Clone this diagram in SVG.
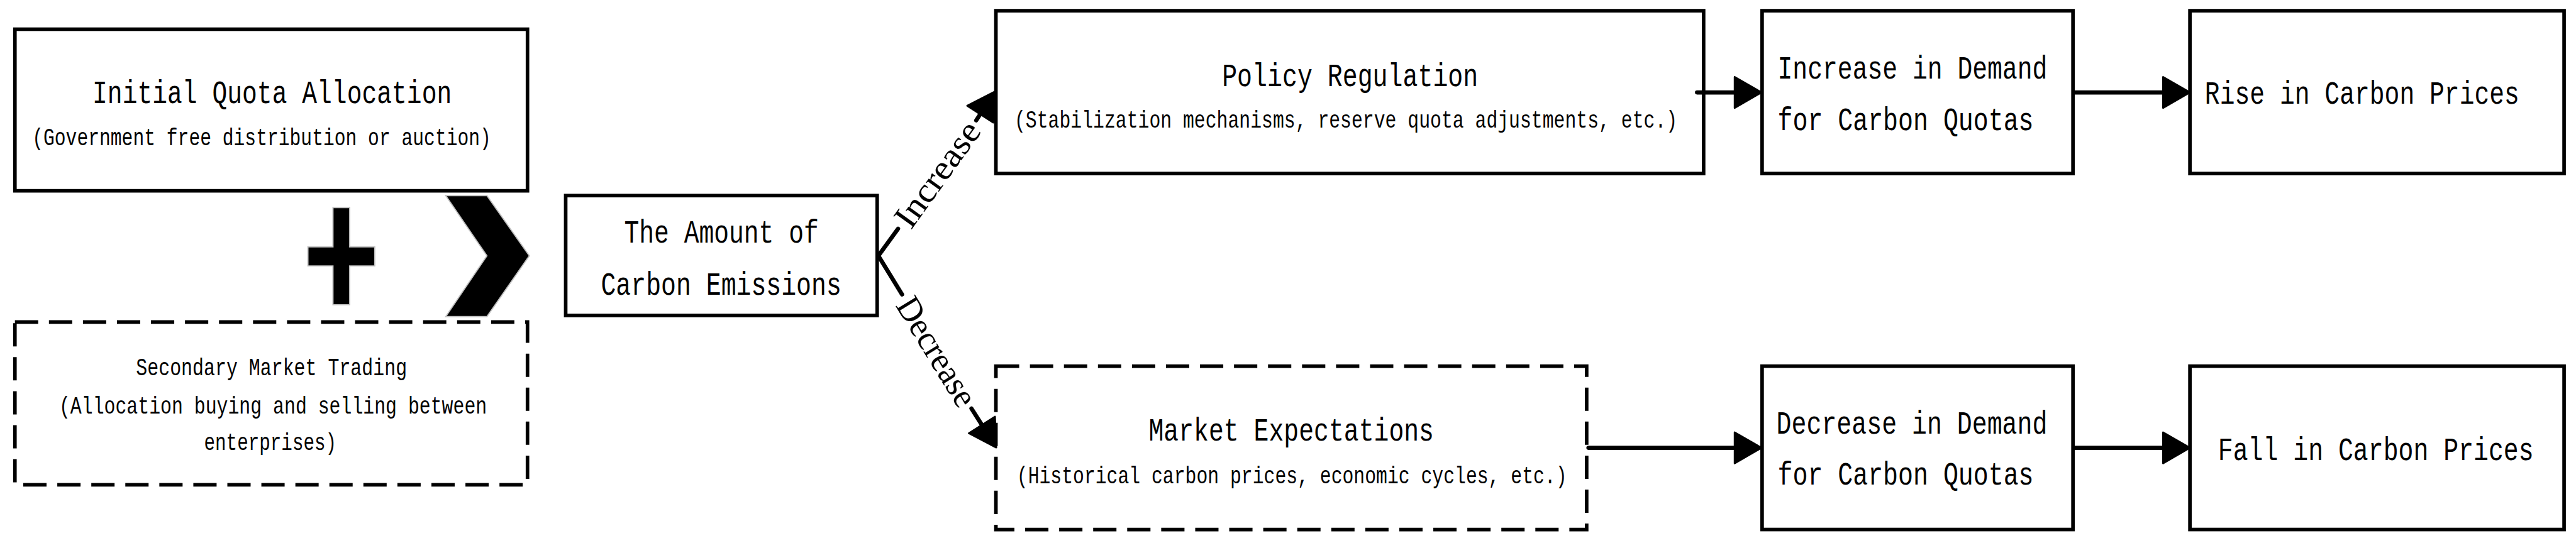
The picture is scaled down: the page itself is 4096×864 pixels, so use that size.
<svg xmlns="http://www.w3.org/2000/svg" width="4096" height="864" viewBox="0 0 4096 864">
<style>
.box{fill:#fff;stroke:#000;stroke-width:6}
.dash{stroke-dasharray:39 18}
.t{font-family:"Liberation Mono","DejaVu Sans Mono",monospace;font-size:44px;fill:#000}
.s{font-size:31px}
.lbl{font-family:"Liberation Serif","DejaVu Serif",serif;font-size:58px;fill:#000}
.con{fill:none;stroke:#000;stroke-width:7;stroke-linecap:round}
.sym{fill:#000;stroke:#c0c0c0;stroke-width:2}
</style>
<defs>
<marker id="ah" markerUnits="userSpaceOnUse" markerWidth="60" markerHeight="70" refX="0" refY="30" orient="auto" viewBox="-5 0 60 60" overflow="visible">
<path d="M0,4 L45,30 L0,56 z" fill="#000" stroke="#000" stroke-width="3" stroke-linejoin="round"/>
</marker>
</defs>
<rect width="4096" height="864" fill="#fff"/>
<g transform="scale(0.948813)">
<g id="initial-quota">
<rect class="box" x="25" y="49" width="859" height="271"/>
<text class="t" transform="translate(155,173) scale(1,1.25)" textLength="602" lengthAdjust="spacingAndGlyphs">Initial Quota Allocation</text>
<text class="t s" transform="translate(54,243) scale(1,1.3)" textLength="769" lengthAdjust="spacingAndGlyphs">(Government free distribution or auction)</text>
</g>
<g id="plus">
<polygon class="sym" points="558,348 586,348 586,414 628,414 628,446 586,446 586,511 558,511 558,446 516,446 516,414 558,414"/>
</g>
<g id="chevron">
<polygon class="sym" points="747,328 816,328 887,429 816,531 747,531 816,429"/>
</g>
<g id="secondary-market">
<rect class="box dash" x="25" y="540" width="859" height="273"/>
<text class="t s" transform="translate(228,629) scale(1,1.3)" textLength="454" lengthAdjust="spacingAndGlyphs">Secondary Market Trading</text>
<text class="t s" transform="translate(99,693) scale(1,1.3)" textLength="717" lengthAdjust="spacingAndGlyphs">(Allocation buying and selling between</text>
<text class="t s" transform="translate(342,755) scale(1,1.3)" textLength="222" lengthAdjust="spacingAndGlyphs">enterprises)</text>
</g>
<g id="carbon-emissions">
<rect class="box" x="948" y="328" width="522" height="201"/>
<text class="t" transform="translate(1046,407) scale(1,1.25)" textLength="326" lengthAdjust="spacingAndGlyphs">The Amount of</text>
<text class="t" transform="translate(1007,494) scale(1,1.25)" textLength="403" lengthAdjust="spacingAndGlyphs">Carbon Emissions</text>
</g>
<g id="policy-regulation">
<rect class="box" x="1669" y="18" width="1186" height="273"/>
<text class="t" transform="translate(2048,144) scale(1,1.25)" textLength="429" lengthAdjust="spacingAndGlyphs">Policy Regulation</text>
<text class="t s" transform="translate(1700,214) scale(1,1.3)" textLength="1111" lengthAdjust="spacingAndGlyphs">(Stabilization mechanisms, reserve quota adjustments, etc.)</text>
</g>
<g id="market-expectations">
<rect class="box dash" x="1669" y="614" width="990" height="274"/>
<text class="t" transform="translate(1925,739) scale(1,1.25)" textLength="478" lengthAdjust="spacingAndGlyphs">Market Expectations</text>
<text class="t s" transform="translate(1704,811) scale(1,1.3)" textLength="922" lengthAdjust="spacingAndGlyphs">(Historical carbon prices, economic cycles, etc.)</text>
</g>
<g id="increase-demand">
<rect class="box" x="2953" y="18" width="521" height="273"/>
<text class="t" transform="translate(2979,132) scale(1,1.25)" textLength="452" lengthAdjust="spacingAndGlyphs">Increase in Demand</text>
<text class="t" transform="translate(2979,218) scale(1,1.25)" textLength="429" lengthAdjust="spacingAndGlyphs">for Carbon Quotas</text>
</g>
<g id="rise-prices">
<rect class="box" x="3670" y="18" width="627" height="273"/>
<text class="t" transform="translate(3695,174) scale(1,1.25)" textLength="527" lengthAdjust="spacingAndGlyphs">Rise in Carbon Prices</text>
</g>
<g id="decrease-demand">
<rect class="box" x="2953" y="614" width="521" height="274"/>
<text class="t" transform="translate(2977,727) scale(1,1.25)" textLength="454" lengthAdjust="spacingAndGlyphs">Decrease in Demand</text>
<text class="t" transform="translate(2979,813) scale(1,1.25)" textLength="429" lengthAdjust="spacingAndGlyphs">for Carbon Quotas</text>
</g>
<g id="fall-prices">
<rect class="box" x="3670" y="614" width="627" height="274"/>
<text class="t" transform="translate(3717,771) scale(1,1.25)" textLength="529" lengthAdjust="spacingAndGlyphs">Fall in Carbon Prices</text>
</g>
<g id="connectors">
<path class="con" d="M1472,429 L1505,383.6"/>
<path class="con" d="M1636,201.9 L1642.7,191.5" marker-end="url(#ah)"/>
<text class="lbl" transform="translate(1570.5,292) rotate(-54.3)" text-anchor="middle" dominant-baseline="central" textLength="205" lengthAdjust="spacingAndGlyphs">Increase</text>
<path class="con" d="M1472,429 L1511.7,493.8"/>
<path class="con" d="M1628,685 L1645.5,712.6" marker-end="url(#ah)"/>
<text class="lbl" transform="translate(1570.1,589.4) rotate(58.5)" text-anchor="middle" dominant-baseline="central" textLength="205" lengthAdjust="spacingAndGlyphs">Decrease</text>
<path class="con" d="M2844,155 L2907,155" marker-end="url(#ah)"/>
<path class="con" d="M3477,155 L3625,155" marker-end="url(#ah)"/>
<path class="con" d="M2662,751 L2907,751" marker-end="url(#ah)"/>
<path class="con" d="M3477,751 L3625,751" marker-end="url(#ah)"/>
</g>
</g>
</svg>
